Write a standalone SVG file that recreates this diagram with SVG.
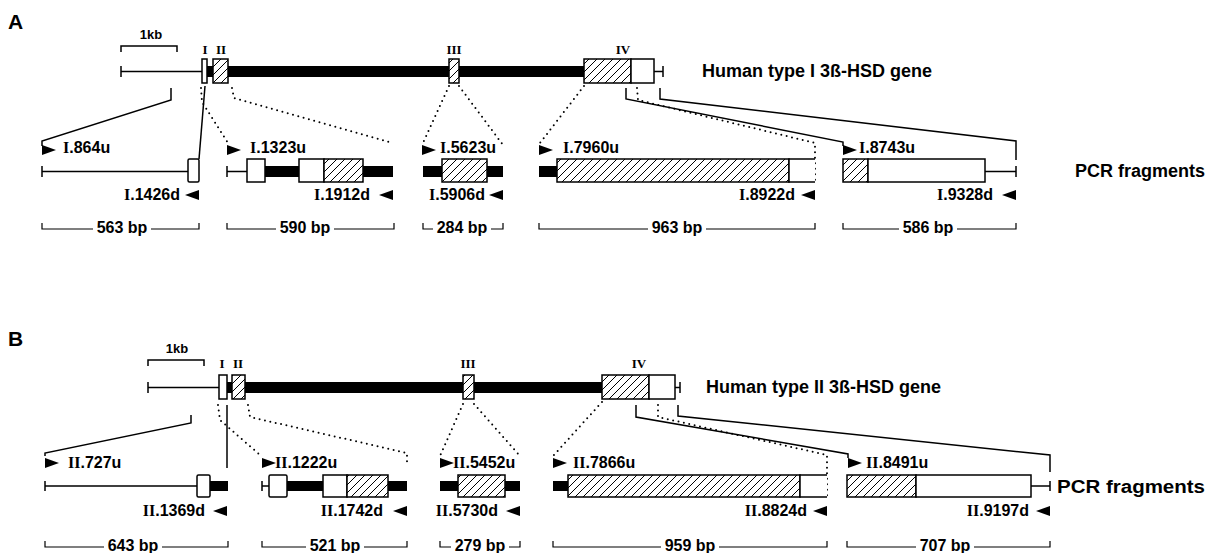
<svg xmlns="http://www.w3.org/2000/svg" width="1214" height="553" viewBox="0 0 1214 553">
<style>
text{font-family:"Liberation Sans",Arial,sans-serif;font-weight:bold;fill:#000}
.pl{font-size:21px}
.kb{font-size:13px;text-anchor:middle}
.ex{font-family:"Liberation Serif","Times New Roman",serif;font-size:13px;text-anchor:middle}
.lb{font-size:16px}
.rv{font-size:16px;text-anchor:end}
.bp{font-size:16px;text-anchor:middle}
.tt{font-size:18px}
.rn{font-family:"Liberation Serif","Times New Roman",serif}
.thin{stroke:#000;stroke-width:1.5;fill:none}
.sol{stroke:#000;stroke-width:1.5;fill:none}
.dot{stroke:#000;stroke-width:2;fill:none;stroke-dasharray:0 5.5;stroke-linecap:round}
.bar{fill:#000}
.wb{fill:#fff;stroke:#000;stroke-width:1.5}
.hb{fill:url(#hatch);stroke:#000;stroke-width:1.5}
.br{stroke:#000;stroke-width:1.2;fill:none}
</style>
<defs>
<pattern id="hatch" patternUnits="userSpaceOnUse" width="8" height="8">
<rect width="8" height="8" fill="#fff"/>
<path d="M0,8 L8,0 M-1,1 L1,-1 M7,9 L9,7" stroke="#000" stroke-width="1"/>
</pattern>
<polygon id="ra" points="0,0 14,5 0,10" fill="#000"/>
<polygon id="la" points="14,0 0,5 14,10" fill="#000"/>
</defs>
<rect width="1214" height="553" fill="#fff"/>

<!-- Panel A -->
<text id="labelA" class="pl" x="8" y="29">A</text>
<g id="scaleA">
<path class="thin" d="M121,52 V46 H177 V52"/>
<text class="kb" x="151" y="39">1kb</text>
</g>
<g id="geneA">
<path class="thin" d="M121,66 V77 M121,71.5 H202"/>
<rect class="bar" x="206" y="66" width="8" height="11"/>
<rect class="bar" x="227" y="66" width="358" height="11"/>
<rect class="wb" x="202" y="59" width="5" height="24"/>
<rect class="hb" x="213" y="59" width="15" height="24"/>
<rect class="hb" x="449" y="59" width="10" height="24"/>
<rect class="hb" x="584" y="59" width="47" height="24"/>
<rect class="wb" x="631" y="59" width="23" height="24"/>
<path class="thin" d="M654,71.5 H663 M663,66 V77"/>
<text class="ex" x="205" y="54">I</text>
<text class="ex" x="221" y="54">II</text>
<text class="ex" x="454" y="54">III</text>
<text class="ex" x="623" y="54">IV</text>
<text class="tt" x="702" y="77">Human type I 3ß-HSD gene</text>
</g>
<g id="connectorsA">
<path class="sol" d="M171,88 V100 L42,141 V146"/>
<path class="sol" d="M205,86 L199,159"/>
<path class="dot" d="M201,88 L202,102 L228,143"/>
<path class="dot" d="M232,88 L234,98 L393,143"/>
<path class="dot" d="M449,86 L423,143"/>
<path class="dot" d="M459,86 L503,145"/>
<path class="dot" d="M584,86 L540,143"/>
<path class="sol" d="M626,88 V99 L843,142 V146"/>
<path class="dot" d="M637,88 L638,100 L815,143 V182"/>
<path class="sol" d="M660,88 V99 L1016,141 V160"/>
</g>
<g id="fragA1">
<use href="#ra" x="42" y="145"/>
<text class="lb" x="63" y="153"><tspan class="rn">I</tspan>.864u</text>
<path class="thin" d="M42,166 V177 M42,171.5 H188"/>
<rect class="wb" x="188" y="159" width="11" height="23" rx="1.5"/>
<text class="rv" x="180" y="200"><tspan class="rn">I</tspan>.1426d</text>
<use href="#la" x="185" y="190"/>
<path class="br" d="M42,223 V229 H93 M151,229 H199 V223"/>
<text class="bp" x="122" y="233">563 bp</text>
</g>
<g id="fragA2">
<use href="#ra" x="227" y="145"/>
<text class="lb" x="250" y="153"><tspan class="rn">I</tspan>.1323u</text>
<path class="thin" d="M227,166 V177 M227,171.5 H247"/>
<rect class="bar" x="265" y="166" width="34" height="11"/>
<rect class="bar" x="363" y="166" width="30" height="11"/>
<rect class="wb" x="247" y="159" width="18" height="23"/>
<rect class="wb" x="299" y="159" width="25" height="23"/>
<rect class="hb" x="324" y="159" width="39" height="23"/>
<text class="rv" x="370" y="200"><tspan class="rn">I</tspan>.1912d</text>
<use href="#la" x="379" y="190"/>
<path class="br" d="M227,223 V229 H276 M334,229 H394 V223"/>
<text class="bp" x="305" y="233">590 bp</text>
</g>
<g id="fragA3">
<use href="#ra" x="422" y="145"/>
<text class="lb" x="440" y="153"><tspan class="rn">I</tspan>.5623u</text>
<rect class="bar" x="423" y="166" width="80" height="11"/>
<rect class="hb" x="442" y="159" width="45" height="23"/>
<text class="rv" x="485" y="200"><tspan class="rn">I</tspan>.5906d</text>
<use href="#la" x="489" y="190"/>
<path class="br" d="M423,223 V229 H433 M491,229 H503 V223"/>
<text class="bp" x="462" y="233">284 bp</text>
</g>
<g id="fragA4">
<use href="#ra" x="539" y="145"/>
<text class="lb" x="563" y="153"><tspan class="rn">I</tspan>.7960u</text>
<rect class="bar" x="539" y="166" width="18" height="11"/>
<rect class="hb" x="557" y="159" width="232" height="23"/>
<path class="wb" d="M815,159 H789 V182 H815"/>
<text class="rv" x="795" y="200"><tspan class="rn">I</tspan>.8922d</text>
<use href="#la" x="801" y="190"/>
<path class="br" d="M539,223 V229 H648 M706,229 H815 V223"/>
<text class="bp" x="677" y="233">963 bp</text>
</g>
<g id="fragA5">
<use href="#ra" x="843" y="145"/>
<text class="lb" x="859" y="153"><tspan class="rn">I</tspan>.8743u</text>
<rect class="hb" x="843" y="159" width="25" height="23"/>
<rect class="wb" x="868" y="159" width="117" height="23"/>
<path class="thin" d="M985,171.5 H1016 M1016,166 V177"/>
<text class="rv" x="993" y="200"><tspan class="rn">I</tspan>.9328d</text>
<use href="#la" x="1002" y="190"/>
<path class="br" d="M843,223 V229 H899 M957,229 H1016 V223"/>
<text class="bp" x="928" y="233">586 bp</text>
</g>
<text id="pcrA" class="tt" x="1075" y="177" textLength="130" lengthAdjust="spacingAndGlyphs">PCR fragments</text>

<!-- Panel B -->
<text id="labelB" class="pl" x="8" y="346">B</text>
<g id="scaleB">
<path class="thin" d="M148,366 V360 H204 V366"/>
<text class="kb" x="177" y="353">1kb</text>
</g>
<g id="geneB">
<path class="thin" d="M148,382 V393 M148,387.5 H219"/>
<rect class="bar" x="226" y="382" width="7" height="11"/>
<rect class="bar" x="244" y="382" width="358" height="11"/>
<rect class="wb" x="219" y="375" width="8" height="24"/>
<rect class="hb" x="232" y="375" width="13" height="24"/>
<rect class="hb" x="463" y="375" width="11" height="24"/>
<rect class="hb" x="602" y="375" width="47" height="24"/>
<rect class="wb" x="649" y="375" width="26" height="24"/>
<path class="thin" d="M675,387.5 H680 M680,382 V393"/>
<text class="ex" x="222" y="368">I</text>
<text class="ex" x="238" y="368">II</text>
<text class="ex" x="468" y="368">III</text>
<text class="ex" x="639" y="368">IV</text>
<text class="tt" x="706" y="393">Human type II 3ß-HSD gene</text>
</g>
<g id="connectorsB">
<path class="sol" d="M191,415 V423 L45,453 V456"/>
<path class="sol" d="M227,405 V468"/>
<path class="dot" d="M218,405 L220,420 L260,455"/>
<path class="dot" d="M248,405 L250,417 L407,453 V462"/>
<path class="dot" d="M463,404 L440,456"/>
<path class="dot" d="M474,404 L520,456"/>
<path class="dot" d="M602,402 L553,456"/>
<path class="sol" d="M636,405 V417 L848,454 V458"/>
<path class="dot" d="M658,405 V417 L827,455 V497"/>
<path class="sol" d="M678,405 V416 L1050,455 V472"/>
</g>
<g id="fragB1">
<use href="#ra" x="45" y="458"/>
<text class="lb" x="68" y="468"><tspan class="rn">II</tspan>.727u</text>
<path class="thin" d="M45,481 V491 M45,486 H197"/>
<rect class="bar" x="210" y="481" width="18" height="10"/>
<rect class="wb" x="197" y="475" width="13" height="22" rx="1.5"/>
<text class="rv" x="205" y="516"><tspan class="rn">II</tspan>.1369d</text>
<use href="#la" x="213" y="506"/>
<path class="br" d="M45,541 V547 H104 M162,547 H228 V541"/>
<text class="bp" x="133" y="551">643 bp</text>
</g>
<g id="fragB2">
<use href="#ra" x="262" y="458"/>
<text class="lb" x="275" y="468"><tspan class="rn">II</tspan>.1222u</text>
<path class="thin" d="M262,481 V491 M262,486 H269"/>
<rect class="bar" x="287" y="481" width="36" height="10"/>
<rect class="bar" x="388" y="481" width="19" height="10"/>
<rect class="wb" x="269" y="475" width="18" height="22" rx="1.5"/>
<rect class="wb" x="323" y="475" width="24" height="22"/>
<rect class="hb" x="347" y="475" width="41" height="22"/>
<text class="rv" x="383" y="516"><tspan class="rn">II</tspan>.1742d</text>
<use href="#la" x="393" y="506"/>
<path class="br" d="M262,541 V547 H306 M364,547 H407 V541"/>
<text class="bp" x="335" y="551">521 bp</text>
</g>
<g id="fragB3">
<use href="#ra" x="440" y="458"/>
<text class="lb" x="453" y="468"><tspan class="rn">II</tspan>.5452u</text>
<rect class="bar" x="440" y="481" width="80" height="10"/>
<rect class="hb" x="458" y="475" width="47" height="22"/>
<text class="rv" x="498" y="516"><tspan class="rn">II</tspan>.5730d</text>
<use href="#la" x="506" y="506"/>
<path class="br" d="M440,541 V547 H451 M509,547 H520 V541"/>
<text class="bp" x="480" y="551">279 bp</text>
</g>
<g id="fragB4">
<use href="#ra" x="553" y="458"/>
<text class="lb" x="573" y="468"><tspan class="rn">II</tspan>.7866u</text>
<rect class="bar" x="553" y="481" width="15" height="10"/>
<rect class="hb" x="568" y="475" width="232" height="22"/>
<path class="wb" d="M827,475 H800 V497 H827"/>
<text class="rv" x="807" y="516"><tspan class="rn">II</tspan>.8824d</text>
<use href="#la" x="813" y="506"/>
<path class="br" d="M553,541 V547 H661 M719,547 H827 V541"/>
<text class="bp" x="690" y="551">959 bp</text>
</g>
<g id="fragB5">
<use href="#ra" x="848" y="458"/>
<text class="lb" x="866" y="468"><tspan class="rn">II</tspan>.8491u</text>
<rect class="hb" x="847" y="475" width="69" height="22"/>
<rect class="wb" x="916" y="475" width="115" height="22"/>
<path class="thin" d="M1031,486 H1050 M1050,481 V491"/>
<text class="rv" x="1029" y="516"><tspan class="rn">II</tspan>.9197d</text>
<use href="#la" x="1036" y="506"/>
<path class="br" d="M847,541 V547 H916 M974,547 H1050 V541"/>
<text class="bp" x="945" y="551">707 bp</text>
</g>
<text id="pcrB" class="tt" x="1057" y="493" textLength="148" lengthAdjust="spacingAndGlyphs">PCR fragments</text>
</svg>
